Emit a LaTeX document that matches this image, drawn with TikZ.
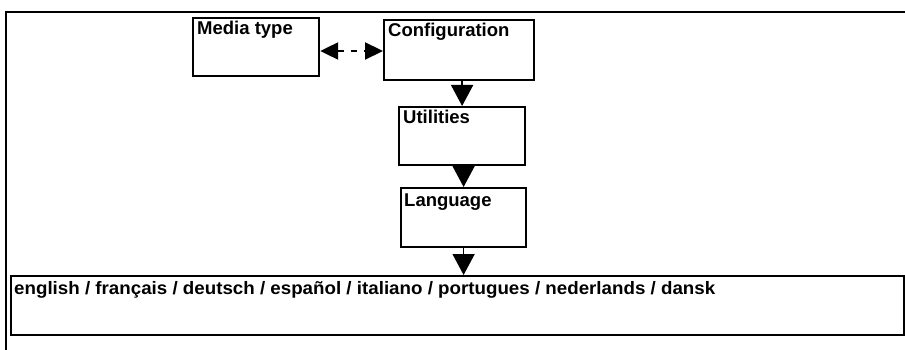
\documentclass[tikz,border=0pt]{standalone}
\usepackage{fontspec}
\usepackage{graphicx}
\setmainfont{Liberation Sans}
\usetikzlibrary{arrows.meta}
\begin{document}
\begin{tikzpicture}[x=1pt,y=-1pt,
  frame/.style={line width=2.2pt},
  box/.style={draw,line width=2.2pt,rectangle,inner sep=0pt,anchor=north west},
  boxtext/.style={anchor=base west,inner sep=0pt,font=\fontsize{18.5}{20}\selectfont\bfseries},
  downarr/.style={line width=1.6pt,-{Triangle[length=21pt,width=22pt]}},
  duoarr/.style={line width=2.2pt,dash pattern=on 6pt off 7pt,{Triangle[length=18pt,width=17pt]}-{Triangle[length=18pt,width=17pt]}}]
\useasboundingbox (0,0) rectangle (905,350);
% open outer frame
\coordinate (fl) at (6,350);
\coordinate (fc) at (6,12);
\coordinate (fr) at (906,12);
\draw[frame] (fl) -- (fc) -- (fr);
% boxes
\node[box,minimum width=126pt,minimum height=58pt] (media) at (192,17) {};
\node[box,minimum width=150pt,minimum height=60pt] (config) at (383,19) {};
\node[box,minimum width=126pt,minimum height=58pt] (util) at (398,106) {};
\node[box,minimum width=125pt,minimum height=59pt] (lang) at (400,187) {};
\node[box,minimum width=893pt,minimum height=59pt] (langs) at (10,275) {};
% texts
\node[boxtext] (tmedia) at (197,35) {Media type};
\node[boxtext] (tconfig) at (388,37) {Configuration};
\node[boxtext] (tutil) at (403,124) {Utilities};
\node[boxtext] (tlang) at (404,206) {Language};
\node[boxtext,font=\fontsize{18}{20}\selectfont\bfseries] (tlangs) at (14,294) {\resizebox{701pt}{\height}{english / français / deutsch / español / italiano / portugues / nederlands / dansk}};
% connectors
\draw[duoarr] (media.east |- 0,51) -- (config.west |- 0,51);
\draw[downarr] (config.south -| util.north) -- (util.north);
\draw[downarr] (util.south -| lang.north) -- (lang.north);
\draw[downarr] (lang.south) -- (lang.south |- langs.north);
\end{tikzpicture}
\end{document}
